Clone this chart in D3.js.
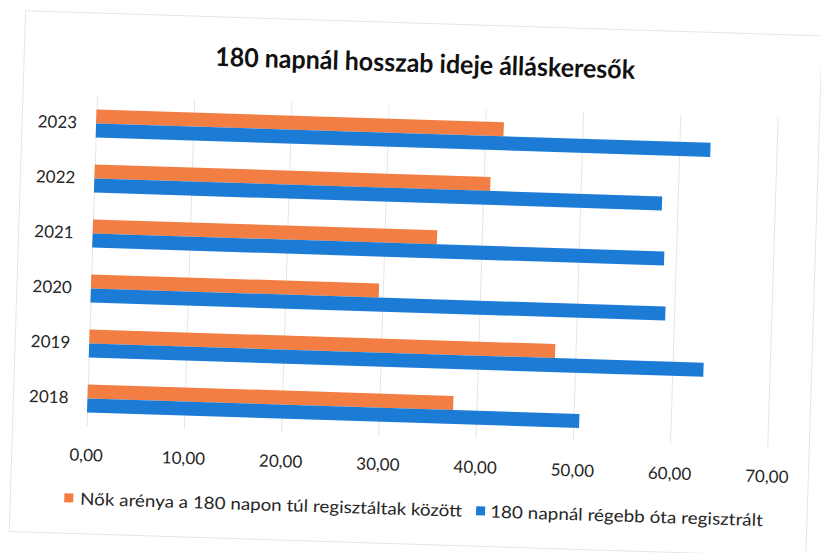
<!DOCTYPE html>
<html>
<head>
<meta charset="utf-8">
<script src="https://cdn.jsdelivr.net/npm/d3@7"></script>
<style>
  html, body { margin: 0; padding: 0; background: #fff; }
  svg { display: block; }
  text { font-family: Lato, "Open Sans", sans-serif; fill: #262626; }
</style>
</head>
<body>
<script>
/* chart data */
const years = ['2018', '2019', '2020', '2021', '2022', '2023'];
const nokAranya = [37.6, 47.9, 29.6, 35.4, 40.7, 41.9];   // orange series
const regebbOta = [50.6, 63.2, 59.1, 58.8, 58.4, 63.2];   // blue series
const xTicks = [0, 10, 20, 30, 40, 50, 60, 70];
const seriesNames = ['Nők arénya a 180 napon túl regisztáltak között', '180 napnál régebb óta regisztrált'];
const seriesColors = ['#F37E43', '#1C7CD5'];
const title = '180 napnál hosszab ideje álláskeresők';

const W = 821, H = 553;
const plot = { left: 91, right: 772, top: 106, bottom: 436 };

const svg = d3.select('body').append('svg')
  .attr('width', W)
  .attr('height', H);

// the scan is tilted a bit clockwise, so everything goes in one rotated group
const g = svg.append('g')
  .attr('transform', 'rotate(1.8, 410, 290)');

// chart frame
g.append('rect')
  .attr('x', 17).attr('y', 23)
  .attr('width', 797).attr('height', 521)
  .attr('fill', '#fff')
  .attr('stroke', '#e6e6e6');

/* scales */
const x = d3.scaleLinear().domain([0, 70]).range([plot.left, plot.right]);
const y = d3.scaleBand()
  .domain(years.slice().reverse())
  .range([plot.top, plot.bottom])
  .paddingInner(0.49)
  .paddingOuter(0.245);
const ySub = d3.scaleBand().domain([0, 1]).range([0, y.bandwidth()]);

/* gridlines */
g.append('g')
  .attr('transform', `translate(0,${plot.bottom})`)
  .call(d3.axisBottom(x).tickValues(xTicks).tickSize(-(plot.bottom - plot.top)).tickFormat(''))
  .call(a => a.select('.domain').remove())
  .call(a => a.selectAll('line').attr('stroke', '#e6e6e6'));

/* bars */
const rows = years.map((yr, i) => ({ year: yr, vals: [nokAranya[i], regebbOta[i]] }));

const grp = g.selectAll('.row')
  .data(rows)
  .enter().append('g')
  .attr('class', 'row')
  .attr('transform', d => `translate(0,${y(d.year)})`);

grp.selectAll('rect')
  .data(d => d.vals.map((v, k) => ({ v, k })))
  .enter().append('rect')
  .attr('x', x(0))
  .attr('y', d => ySub(d.k))
  .attr('width', d => x(d.v) - x(0))
  .attr('height', ySub.bandwidth())
  .attr('fill', d => seriesColors[d.k]);

/* x axis labels */
g.append('g')
  .attr('transform', 'translate(0,459)')
  .call(d3.axisBottom(x).tickValues(xTicks).tickSize(0).tickPadding(0)
    .tickFormat(d => d3.format('.2f')(d).replace('.', ',')))
  .call(a => a.select('.domain').remove())
  .call(a => a.selectAll('text')
    .style('font-size', '17px')
    .style('font-family', 'Lato, "Open Sans", sans-serif')
    .attr('fill', '#262626'));

/* y axis labels */
g.append('g')
  .attr('transform', `translate(${plot.left},0)`)
  .call(d3.axisLeft(y).tickSize(0).tickPadding(19))
  .call(a => a.select('.domain').remove())
  .call(a => a.selectAll('text')
    .style('font-size', '17px')
    .style('font-family', 'Lato, "Open Sans", sans-serif')
    .attr('fill', '#262626'));

/* title */
g.append('text')
  .attr('x', 418)
  .attr('y', 72)
  .attr('text-anchor', 'middle')
  .attr('textLength', 420)
  .attr('lengthAdjust', 'spacingAndGlyphs')
  .style('font-size', '26px')
  .style('font-weight', 'bold')
  .style('fill', '#111')
  .text(title);

/* legend */
const legendPos = [
  { sx: 71, tx: 87, len: 382 },
  { sx: 483, tx: 497, len: 273 }
];
const legend = g.selectAll('.legend')
  .data(seriesNames)
  .enter().append('g')
  .attr('class', 'legend');

legend.append('rect')
  .attr('x', (d, i) => legendPos[i].sx)
  .attr('y', 504)
  .attr('width', 9)
  .attr('height', 9)
  .attr('fill', (d, i) => seriesColors[i]);

legend.append('text')
  .attr('x', (d, i) => legendPos[i].tx)
  .attr('y', 515)
  .attr('textLength', (d, i) => legendPos[i].len)
  .attr('lengthAdjust', 'spacingAndGlyphs')
  .style('font-size', '17px')
  .text(d => d);
</script>
</body>
</html>
